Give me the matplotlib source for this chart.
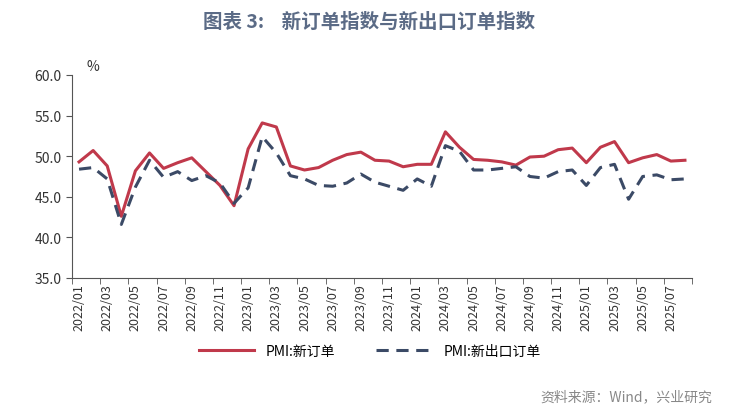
import matplotlib.pyplot as plt
import numpy as np

plt.rcParams['font.family'] = ['Noto Sans CJK SC']

months = [f"{y}/{m:02d}" for y in range(2022, 2026) for m in range(1, 13)][:44]
new_orders = [49.3, 50.7, 48.8, 42.6, 48.2, 50.4, 48.5, 49.2, 49.8, 48.1, 46.4, 43.9,
              50.9, 54.1, 53.6, 48.8, 48.3, 48.6, 49.5, 50.2, 50.5, 49.5, 49.4, 48.7,
              49.0, 49.0, 53.0, 51.1, 49.6, 49.5, 49.3, 48.9, 49.9, 50.0, 50.8, 51.0,
              49.2, 51.1, 51.8, 49.2, 49.8, 50.2, 49.4, 49.5]
export_orders = [48.4, 48.6, 47.2, 41.6, 46.2, 49.5, 47.4, 48.1, 47.0, 47.6, 46.7, 44.2,
                 46.1, 52.4, 50.4, 47.6, 47.2, 46.4, 46.3, 46.7, 47.8, 46.8, 46.3, 45.8,
                 47.2, 46.3, 51.3, 50.6, 48.3, 48.3, 48.5, 48.7, 47.5, 47.3, 48.1, 48.3,
                 46.4, 48.6, 49.0, 44.7, 47.5, 47.7, 47.1, 47.2]

fig = plt.figure(figsize=(7.39, 4.14), dpi=100)
ax = fig.add_axes([72/739, 1-279/414, 620/739, 203/414])
x = np.arange(len(months))
ax.plot(x, new_orders, color='#c0394b', lw=2.2, label='PMI:新订单')
ax.plot(x, export_orders, color='#3b4a66', lw=2.2, ls=(0, (4, 2.5)), label='PMI:新出口订单')

ax.set_xlim(-0.5, len(months) - 0.5)
ax.set_ylim(35, 60)
ax.set_yticks(np.arange(35, 60.1, 5))
ax.set_yticklabels([f"{v:.1f}" for v in np.arange(35, 60.1, 5)], fontsize=10, color='#333333')
ax.set_xticks(x[::2])
ax.set_xticklabels(months[::2], rotation=90, fontsize=9, color='#333333')
ax.set_xticks(np.arange(-0.5, len(months), 2), minor=True)
ax.tick_params(axis='x', which='major', length=0, pad=4)
ax.tick_params(axis='x', which='minor', length=4, color='#555555')
ax.tick_params(axis='y', length=4, color='#555555')
for s in ['top', 'right']:
    ax.spines[s].set_visible(False)
for s in ['left', 'bottom']:
    ax.spines[s].set_color('#555555')
ax.text(0.5, 60.3, '%', fontsize=10, color='#333333', va='bottom')

fig.legend(loc='center', bbox_to_anchor=(0.5, 1-352/414), ncol=2, frameon=False,
           fontsize=10, handlelength=4, columnspacing=3)
fig.text(0.5, 1-22/414, '图表 3:    新订单指数与新出口订单指数', ha='center', va='center',
         fontsize=14, fontweight='bold', color='#5b6b86')
fig.text(712/739, 1-397/414, '资料来源：Wind，兴业研究', ha='right', va='center',
         fontsize=10, color='#888888')
fig.savefig('out.png', dpi=100)
